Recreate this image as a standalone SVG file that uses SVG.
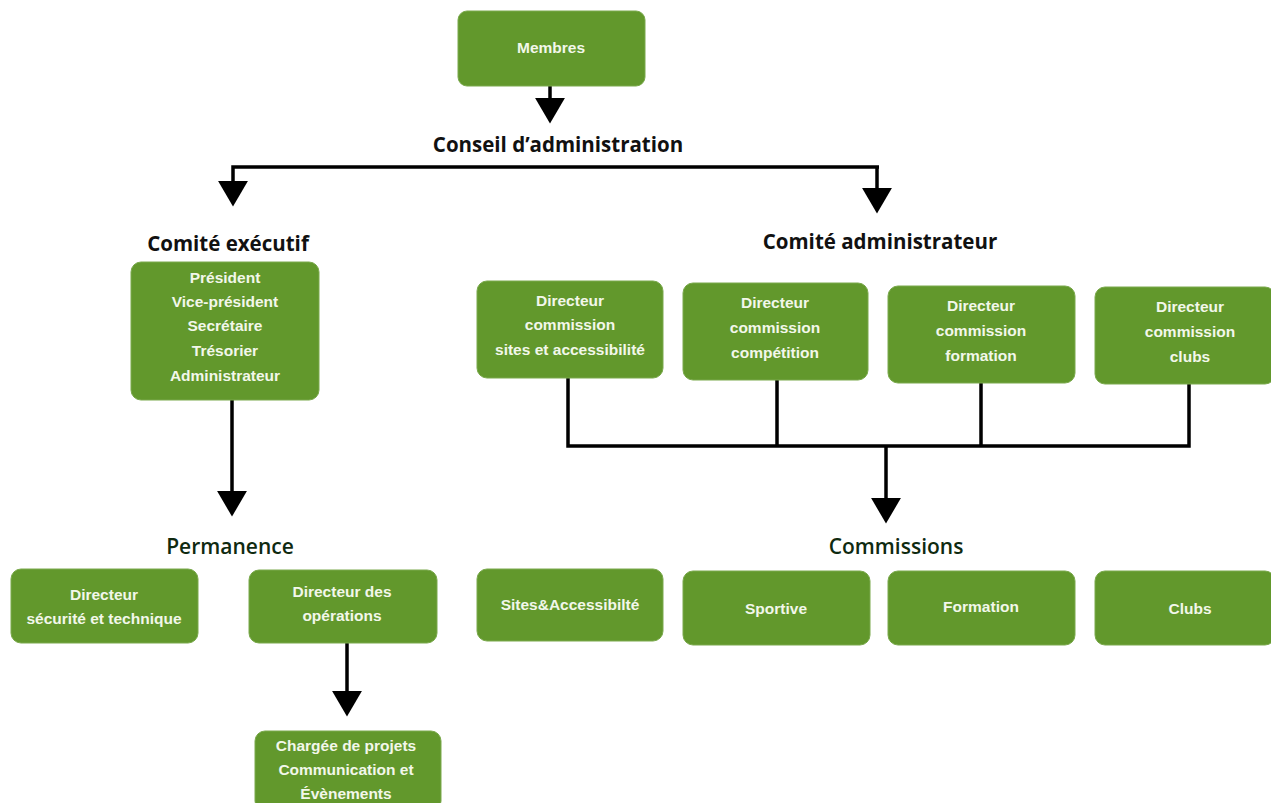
<svg xmlns="http://www.w3.org/2000/svg" width="1271" height="803" viewBox="0 0 1271 803">
<style>
.box{fill:#62982c;stroke:#7aa94c;stroke-width:1}
.bt{font-family:"Liberation Sans",Arial,sans-serif;font-weight:bold;font-size:15.5px;fill:#f2f7ea;text-anchor:middle}
.h{font-family:"Open Sans","Liberation Sans",sans-serif;font-weight:bold;font-size:20.5px;fill:#111;text-anchor:middle}
.h2{font-family:"Open Sans","Liberation Sans",sans-serif;font-weight:600;font-size:21px;fill:#0f2a10;text-anchor:middle}
.c{fill:none;stroke:#000;stroke-width:3.5}
</style>
<defs>
<marker id="ah" markerUnits="userSpaceOnUse" markerWidth="28" markerHeight="30" refX="2" refY="14" orient="auto" viewBox="0 0 26 28">
<path d="M0,0 L24,14 L0,28 z" fill="#000"/>
</marker>
</defs>
<g id="connectors">
<path class="c" d="M550,86 V100" marker-end="url(#ah)"/>
<path class="c" d="M879,167 H233 V183" marker-end="url(#ah)"/>
<path class="c" d="M877,167 V190" marker-end="url(#ah)"/>
<path class="c" d="M232,400 V493" marker-end="url(#ah)"/>
<path class="c" d="M568,378 V446 H1189 V384 M777,380 V446 M981,383 V446"/>
<path class="c" d="M886,446 V500" marker-end="url(#ah)"/>
<path class="c" d="M347,643 V693" marker-end="url(#ah)"/>
</g>
<g id="labels">
<text class="h" x="558" y="152">Conseil d’administration</text>
<text class="h" x="228" y="251">Comité exécutif</text>
<text class="h" x="880" y="249">Comité administrateur</text>
<text class="h2" x="230" y="554">Permanence</text>
<text class="h2" x="896" y="554">Commissions</text>
</g>
<g id="membres"><rect class="box" x="458" y="11" width="187" height="75" rx="9"/><text class="bt" x="551" y="53">Membres</text></g>
<g id="executif"><rect class="box" x="131" y="262" width="188" height="138" rx="10"/>
<text class="bt"><tspan x="225" y="283">Président</tspan><tspan x="225" y="307">Vice-président</tspan><tspan x="225" y="331">Secrétaire</tspan><tspan x="225" y="356">Trésorier</tspan><tspan x="225" y="381">Administrateur</tspan></text></g>
<g id="dir-sites"><rect class="box" x="477" y="281" width="186" height="97" rx="10"/>
<text class="bt"><tspan x="570" y="306">Directeur</tspan><tspan x="570" y="330">commission</tspan><tspan x="570" y="355">sites et accessibilité</tspan></text></g>
<g id="dir-competition"><rect class="box" x="683" y="283" width="185" height="97" rx="10"/>
<text class="bt"><tspan x="775" y="308">Directeur</tspan><tspan x="775" y="333">commission</tspan><tspan x="775" y="358">compétition</tspan></text></g>
<g id="dir-formation"><rect class="box" x="888" y="286" width="187" height="97" rx="10"/>
<text class="bt"><tspan x="981" y="311">Directeur</tspan><tspan x="981" y="336">commission</tspan><tspan x="981" y="361">formation</tspan></text></g>
<g id="dir-clubs"><rect class="box" x="1095" y="287" width="180" height="97" rx="10"/>
<text class="bt"><tspan x="1190" y="312">Directeur</tspan><tspan x="1190" y="337">commission</tspan><tspan x="1190" y="362">clubs</tspan></text></g>
<g id="dir-securite"><rect class="box" x="11" y="569" width="187" height="74" rx="10"/>
<text class="bt"><tspan x="104" y="600">Directeur</tspan><tspan x="104" y="624">sécurité et technique</tspan></text></g>
<g id="dir-operations"><rect class="box" x="249" y="570" width="188" height="73" rx="10"/>
<text class="bt"><tspan x="342" y="597">Directeur des</tspan><tspan x="342" y="621">opérations</tspan></text></g>
<g id="chargee"><rect class="box" x="255" y="731" width="186" height="80" rx="10"/>
<text class="bt"><tspan x="346" y="751">Chargée de projets</tspan><tspan x="346" y="775">Communication et</tspan><tspan x="346" y="799">Évènements</tspan></text></g>
<g id="com-sites"><rect class="box" x="477" y="569" width="186" height="72" rx="10"/><text class="bt" x="570" y="610">Sites&amp;Accessibilté</text></g>
<g id="com-sportive"><rect class="box" x="683" y="571" width="187" height="74" rx="10"/><text class="bt" x="776" y="614">Sportive</text></g>
<g id="com-formation"><rect class="box" x="888" y="571" width="187" height="74" rx="10"/><text class="bt" x="981" y="612">Formation</text></g>
<g id="com-clubs"><rect class="box" x="1095" y="571" width="180" height="74" rx="10"/><text class="bt" x="1190" y="614">Clubs</text></g>
</svg>
